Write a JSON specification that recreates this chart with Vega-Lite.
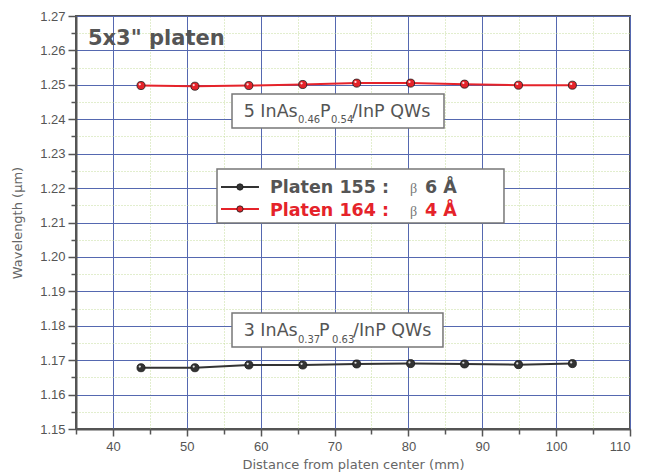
{
  "$schema": "https://vega.github.io/schema/vega-lite/v6.json",
  "width": 554,
  "height": 413,
  "autosize": {"type": "none"},
  "padding": {"left": 76, "top": 16, "right": 24, "bottom": 47},
  "background": "white",
  "config": {
    "view": {"stroke": "#555555", "strokeWidth": 2},
    "axis": {
      "domainColor": "#555555",
      "domainWidth": 2,
      "tickColor": "#555555",
      "tickWidth": 1.5,
      "labelFont": "Liberation Sans",
      "labelFontSize": 13,
      "labelColor": "#555555",
      "labelOverlap": false,
      "titleFont": "DejaVu Sans",
      "titleFontSize": 13,
      "titleFontWeight": "normal",
      "titleColor": "#666666"
    }
  },
  "data": {
    "values": [
      {"series": "Platen 155", "x": 43.8, "y": 1.1678},
      {"series": "Platen 155", "x": 51.1, "y": 1.1678},
      {"series": "Platen 155", "x": 58.4, "y": 1.1686},
      {"series": "Platen 155", "x": 65.7, "y": 1.1686},
      {"series": "Platen 155", "x": 73.0, "y": 1.1689},
      {"series": "Platen 155", "x": 80.3, "y": 1.1690},
      {"series": "Platen 155", "x": 87.6, "y": 1.1689},
      {"series": "Platen 155", "x": 94.9, "y": 1.1687},
      {"series": "Platen 155", "x": 102.2, "y": 1.1690},
      {"series": "Platen 164", "x": 43.8, "y": 1.2498},
      {"series": "Platen 164", "x": 51.1, "y": 1.2496},
      {"series": "Platen 164", "x": 58.4, "y": 1.2498},
      {"series": "Platen 164", "x": 65.7, "y": 1.2501},
      {"series": "Platen 164", "x": 73.0, "y": 1.2505},
      {"series": "Platen 164", "x": 80.3, "y": 1.2505},
      {"series": "Platen 164", "x": 87.6, "y": 1.2502},
      {"series": "Platen 164", "x": 94.9, "y": 1.2499},
      {"series": "Platen 164", "x": 102.2, "y": 1.2499}
    ]
  },
  "layer": [
    {
      "mark": {"type": "line", "strokeWidth": 2},
      "encoding": {
        "x": {
          "field": "x", "type": "quantitative",
          "scale": {"domain": [35, 110], "nice": false, "zero": false},
          "title": "Distance from platen center (mm)",
          "axis": {
            "values": [35, 40, 45, 50, 55, 60, 65, 70, 75, 80, 85, 90, 95, 100, 105, 110],
            "tickCount": 100,
            "labelExpr": "datum.value % 10 === 0 ? datum.label : ''",
            "labelPadding": 4,
            "titlePadding": 5,
            "grid": true,
            "gridColor": {"condition": {"test": "datum.value % 10 === 0", "value": "#5568b0"}, "value": "#c5dd9c"},
            "gridDash": {"condition": {"test": "datum.value % 10 === 0", "value": []}, "value": [1, 2]},
            "gridWidth": 1,
            "tickSize": {"condition": {"test": "datum.value % 10 === 0", "value": 7}, "value": 5}
          }
        },
        "y": {
          "field": "y", "type": "quantitative",
          "scale": {"domain": [1.15, 1.27], "nice": false, "zero": false},
          "title": "Wavelength (µm)",
          "axis": {
            "values": [1.15, 1.155, 1.16, 1.165, 1.17, 1.175, 1.18, 1.185, 1.19, 1.195, 1.2, 1.205, 1.21, 1.215, 1.22, 1.225, 1.23, 1.235, 1.24, 1.245, 1.25, 1.255, 1.26, 1.265, 1.27],
            "tickCount": 100,
            "labelExpr": "abs(datum.value*100 - round(datum.value*100)) < 0.01 ? format(datum.value, '.2f') : ''",
            "labelPadding": 3,
            "titlePadding": 15,
            "grid": true,
            "gridColor": {"condition": {"test": "abs(datum.value*100 - round(datum.value*100)) < 0.01", "value": "#5568b0"}, "value": "#c5dd9c"},
            "gridDash": {"condition": {"test": "abs(datum.value*100 - round(datum.value*100)) < 0.01", "value": []}, "value": [1, 2]},
            "gridWidth": 1,
            "tickSize": {"condition": {"test": "abs(datum.value*100 - round(datum.value*100)) < 0.01", "value": 8}, "value": 5}
          }
        },
        "color": {
          "field": "series", "type": "nominal",
          "scale": {"domain": ["Platen 155", "Platen 164"], "range": ["#333333", "#e5232a"]},
          "legend": null
        }
      }
    },
    {
      "mark": {"type": "point", "filled": true, "size": 65, "opacity": 1, "strokeWidth": 0.8, "stroke": "#1a1a1a"},
      "encoding": {
        "x": {"field": "x", "type": "quantitative"},
        "y": {"field": "y", "type": "quantitative"},
        "color": {"field": "series", "type": "nominal", "legend": null}
      }
    },
    {
      "mark": {"type": "point", "filled": true, "size": 5, "color": "white", "opacity": 0.85, "xOffset": -1.2, "yOffset": -1.2},
      "encoding": {
        "x": {"field": "x", "type": "quantitative"},
        "y": {"field": "y", "type": "quantitative"}
      }
    },
    {
      "data": {"values": [
        {"x": 56.12, "x2": 84.82, "y": 1.24734, "y2": 1.23746},
        {"x": 56.12, "x2": 84.68, "y": 1.18371, "y2": 1.17383},
        {"x": 54.09, "x2": 92.94, "y": 1.22555, "y2": 1.20986}
      ]},
      "mark": {"type": "rect", "fill": "white", "stroke": "#777777", "strokeWidth": 1.5},
      "encoding": {
        "x": {"field": "x", "type": "quantitative"},
        "x2": {"field": "x2"},
        "y": {"field": "y", "type": "quantitative"},
        "y2": {"field": "y2"}
      }
    },
    {
      "data": {"values": [
        {"series": "Platen 155", "x": 54.63, "x2": 59.77, "y": 1.22032},
        {"series": "Platen 164", "x": 54.63, "x2": 59.77, "y": 1.21392}
      ]},
      "mark": {"type": "rule", "strokeWidth": 2},
      "encoding": {
        "x": {"field": "x", "type": "quantitative"},
        "x2": {"field": "x2"},
        "y": {"field": "y", "type": "quantitative"},
        "color": {"field": "series", "type": "nominal", "legend": null}
      }
    },
    {
      "data": {"values": [
        {"series": "Platen 155", "x": 57.2, "y": 1.22032},
        {"series": "Platen 164", "x": 57.2, "y": 1.21392}
      ]},
      "mark": {"type": "point", "filled": true, "size": 40, "opacity": 1, "strokeWidth": 0.8, "stroke": "#1a1a1a"},
      "encoding": {
        "x": {"field": "x", "type": "quantitative"},
        "y": {"field": "y", "type": "quantitative"},
        "color": {"field": "series", "type": "nominal", "legend": null}
      }
    },
    {
      "data": {"values": [{"x": 36.62, "y": 1.26157, "text": "5x3\" platen"}]},
      "mark": {"type": "text", "align": "left", "baseline": "alphabetic", "font": "DejaVu Sans", "fontWeight": "bold", "fontSize": 21, "color": "#555555"},
      "encoding": {
        "x": {"field": "x", "type": "quantitative"},
        "y": {"field": "y", "type": "quantitative"},
        "text": {"field": "text"}
      }
    },
    {
      "data": {"values": [
        {"x": 57.7, "y": 1.24065, "text": "5 InAs"},
        {"x": 68.03, "y": 1.24065, "text": "P"},
        {"x": 72.36, "y": 1.24065, "text": "/InP QWs"},
        {"x": 57.7, "y": 1.17702, "text": "3 InAs"},
        {"x": 67.9, "y": 1.17702, "text": "P"},
        {"x": 72.5, "y": 1.17702, "text": "/InP QWs"}
      ]},
      "mark": {"type": "text", "align": "left", "baseline": "alphabetic", "font": "DejaVu Sans", "fontSize": 17.5, "color": "#555555"},
      "encoding": {
        "x": {"field": "x", "type": "quantitative"},
        "y": {"field": "y", "type": "quantitative"},
        "text": {"field": "text"}
      }
    },
    {
      "data": {"values": [
        {"x": 65.05, "y": 1.23891, "text": "0.46"},
        {"x": 69.52, "y": 1.23891, "text": "0.54"},
        {"x": 65.05, "y": 1.17499, "text": "0.37"},
        {"x": 69.66, "y": 1.17499, "text": "0.63"}
      ]},
      "mark": {"type": "text", "align": "left", "baseline": "alphabetic", "font": "DejaVu Sans", "fontSize": 10, "color": "#555555"},
      "encoding": {
        "x": {"field": "x", "type": "quantitative"},
        "y": {"field": "y", "type": "quantitative"},
        "text": {"field": "text"}
      }
    },
    {
      "data": {"values": [
        {"x": 61.26, "y": 1.21857, "text": "Platen 155 :"},
        {"x": 82.24, "y": 1.21857, "text": "6 Å"}
      ]},
      "mark": {"type": "text", "align": "left", "baseline": "alphabetic", "font": "DejaVu Sans", "fontWeight": "bold", "fontSize": 17.5, "color": "#555555"},
      "encoding": {
        "x": {"field": "x", "type": "quantitative"},
        "y": {"field": "y", "type": "quantitative"},
        "text": {"field": "text"}
      }
    },
    {
      "data": {"values": [
        {"x": 61.26, "y": 1.21189, "text": "Platen 164 :"},
        {"x": 82.24, "y": 1.21189, "text": "4 Å"}
      ]},
      "mark": {"type": "text", "align": "left", "baseline": "alphabetic", "font": "DejaVu Sans", "fontWeight": "bold", "fontSize": 17.5, "color": "#e5232a"},
      "encoding": {
        "x": {"field": "x", "type": "quantitative"},
        "y": {"field": "y", "type": "quantitative"},
        "text": {"field": "text"}
      }
    },
    {
      "data": {"values": [
        {"x": 80.21, "y": 1.21857, "text": "β"},
        {"x": 80.21, "y": 1.21189, "text": "β"}
      ]},
      "mark": {"type": "text", "align": "left", "baseline": "alphabetic", "font": "Liberation Serif", "fontSize": 14, "color": "#777777"},
      "encoding": {
        "x": {"field": "x", "type": "quantitative"},
        "y": {"field": "y", "type": "quantitative"},
        "text": {"field": "text"}
      }
    }
  ]
}
